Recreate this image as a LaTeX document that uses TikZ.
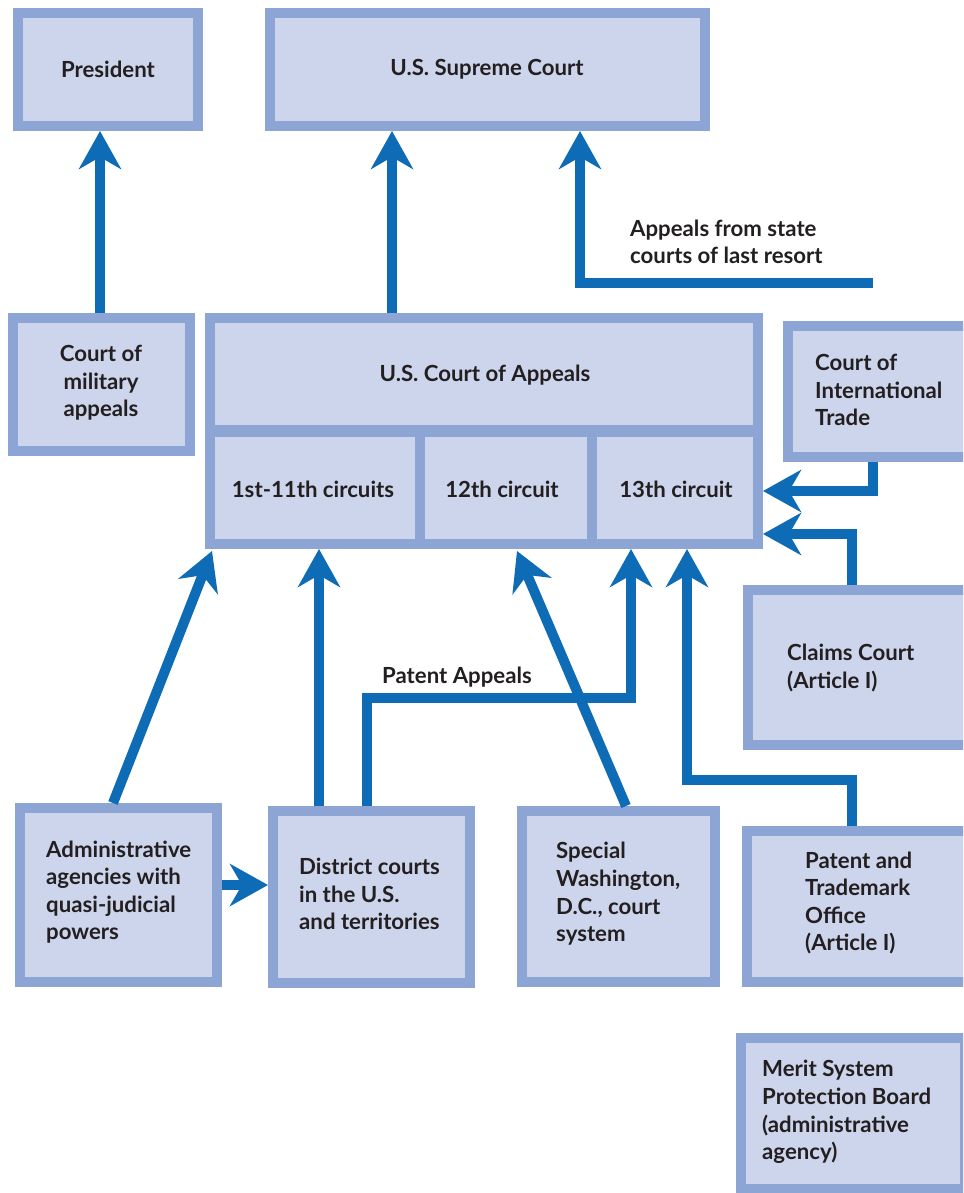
\documentclass[tikz,border=0pt]{standalone}
\usepackage{fontspec}
\setmainfont{Lato}
\usetikzlibrary{arrows.meta}
\definecolor{boxfill}{HTML}{CDD5EC}
\definecolor{boxline}{HTML}{8CA5D4}
\definecolor{arrblue}{HTML}{0E6BB6}
\definecolor{txt}{HTML}{231F20}
\tikzset{
  box/.style={draw=boxline, fill=boxfill, line width=10pt, outer sep=5pt, inner sep=0pt, anchor=north west, rectangle},
  lbl/.style={text=txt, font=\bfseries\fontsize{22.2}{27.6}\selectfont, inner sep=0pt},
  lbll/.style={lbl, align=left, anchor=west},
  arr/.style={draw=arrblue, line width=10pt, line join=miter, -{Stealth[length=38pt,width=42pt,inset=12pt]}},
  divider/.style={draw=boxline, line width=#1},
}
\begin{document}
\begin{tikzpicture}[x=1pt,y=-1pt]
\clip (0,0) rectangle (963,1193);
\fill[white] (0,0) rectangle (963,1193);
% boxes (anchor = outer north west corner)
\node[box, minimum width=180pt, minimum height=113pt] (pres) at (13,8) {};
\node[box, minimum width=435pt, minimum height=113pt] (sup) at (265,8) {};
\node[box, minimum width=177pt, minimum height=133pt] (mil) at (8,313) {};
\node[box, minimum width=548pt, minimum height=226pt] (coa) at (205,313) {};
\node[box, minimum width=182pt, minimum height=131pt] (cit) at (783,321) {};
\node[box, minimum width=222pt, minimum height=155pt] (claims) at (743,585) {};
\node[box, minimum width=197pt, minimum height=174pt] (admin) at (15,803) {};
\node[box, minimum width=197pt, minimum height=172pt] (dist) at (268,806) {};
\node[box, minimum width=193pt, minimum height=171pt] (spec) at (517,806) {};
\node[box, minimum width=223pt, minimum height=151pt] (pto) at (742,826) {};
\node[box, minimum width=224pt, minimum height=151pt] (merit) at (736,1033) {};
% dividers inside the Court of Appeals
\draw[divider=12pt] (210,431) -- (758,431);
\draw[divider=10pt] (420,431) -- (420,549);
\draw[divider=10pt] (592,431) -- (592,549);
% texts
\node[lbl] (presT) at (108,69) {President};
\node[lbl] (supT) at (487,69) {U.S. Supreme Court};
\node[lbl, align=center] (milT) at (101,383) {Court of\\military\\appeals};
\node[lbl] (coaT) at (485,375) {U.S. Court of Appeals};
\node[lbl] (c1) at (313,489) {1st-11th circuits};
\node[lbl] (c2) at (502,489) {12th circuit};
\node[lbl] (c3) at (676,489) {13th circuit};
\node[lbll] (citT) at (815,390) {Court of\\International\\Trade};
\node[lbll] (claimsT) at (787,668) {Claims Court\\(Article I)};
\node[lbll] (adminT) at (46,892) {Administrative\\agencies with\\quasi-judicial\\powers};
\node[lbll] (distT) at (299,894) {District courts\\in the U.S.\\and territories};
\node[lbll] (specT) at (556,894) {Special\\Washington,\\D.C., court\\system};
\node[lbll] (ptoT) at (805,903) {Patent and\\Trademark\\Office\\(Article I)};
\node[lbll] (meritT) at (762,1112) {Merit System\\Protection Board\\(administrative\\agency)};
\node[lbll] (stateT) at (630,242) {Appeals from state\\courts of last resort};
\node[lbll] (patT) at (382,677) {Patent Appeals};
% connector coordinates
\coordinate (xa) at (100,0);
\coordinate (xb) at (392,0);
\coordinate (st) at (873,283);
\coordinate (xc) at (580,0);
\coordinate (d1) at (873,491);
\coordinate (e1) at (852,534);
\coordinate (f0) at (113,0);
\coordinate (f1) at (212,551);
\coordinate (g) at (319,0);
\coordinate (h1) at (367,698);
\coordinate (h2) at (631,698);
\coordinate (i0) at (626,0);
\coordinate (i1) at (517,551);
\coordinate (j1) at (852,780);
\coordinate (j2) at (687,780);
\coordinate (k) at (0,885);
% connectors
\draw[arr] (mil.north -| xa) -- (pres.south -| xa);
\draw[arr] (coa.north -| xb) -- (sup.south -| xb);
\draw[arr] (st) -- (st -| xc) -- (sup.south -| xc);
\draw[arr] (cit.south -| d1) -- (d1) -- (coa.east |- d1);
\draw[arr] (claims.north -| e1) -- (e1) -- (coa.east |- e1);
\draw[arr] (admin.north -| f0) -- (f1);
\draw[arr] (dist.north -| g) -- (coa.south -| g);
\draw[arr] (dist.north -| h1) -- (h1) -- (h2) -- (coa.south -| h2);
\draw[arr] (spec.north -| i0) -- (i1);
\draw[arr] (pto.north -| j1) -- (j1) -- (j2) -- (coa.south -| j2);
\draw[arr] (admin.east |- k) -- (dist.west |- k);
\end{tikzpicture}
\end{document}
